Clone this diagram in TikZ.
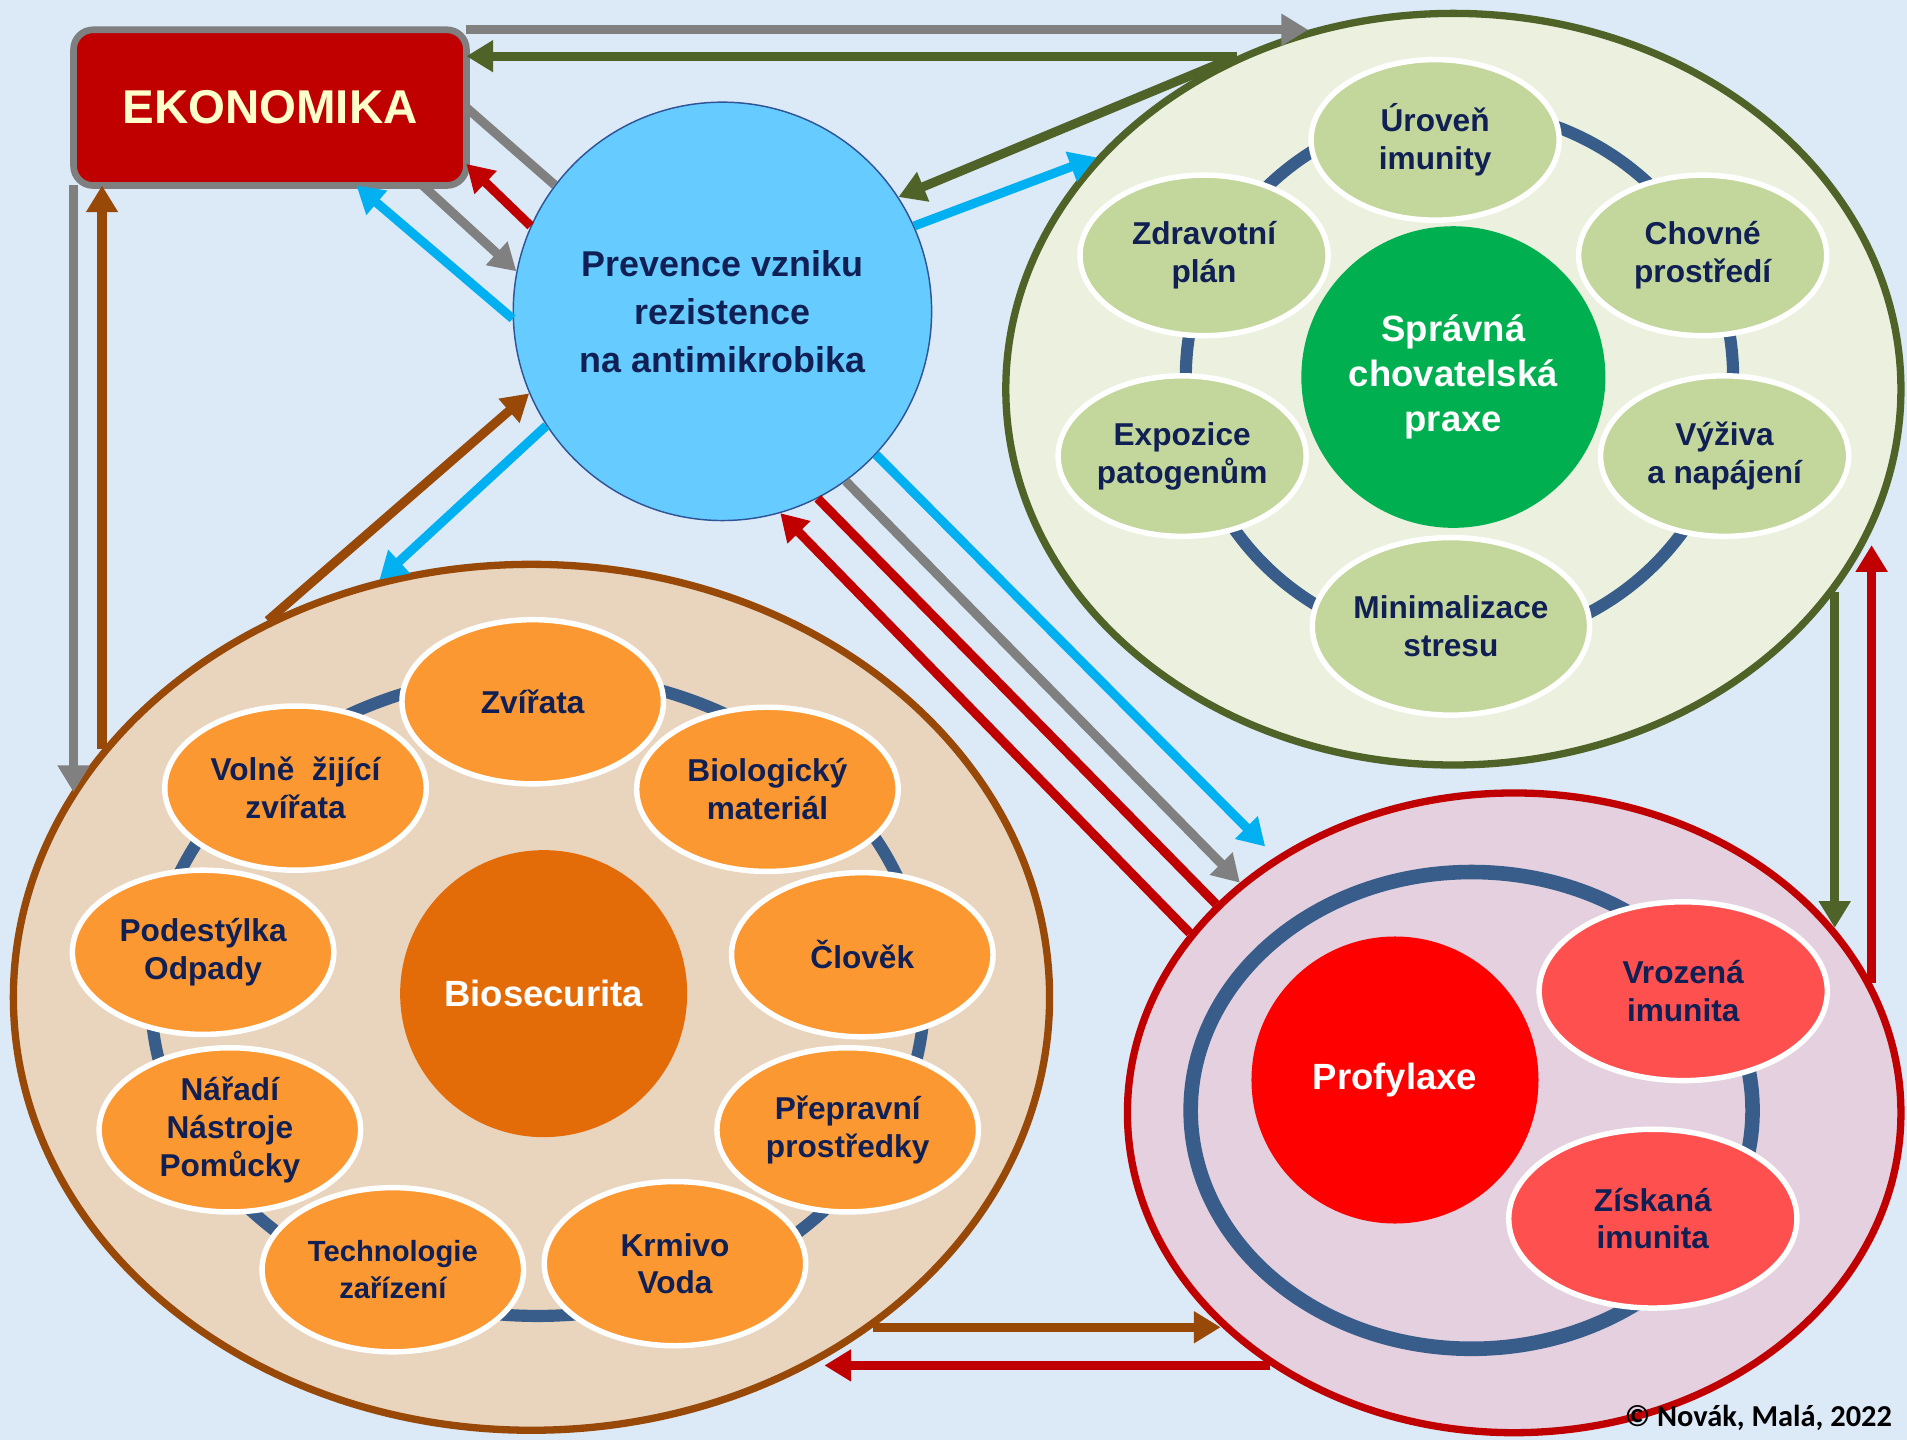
\documentclass[tikz,border=0pt]{standalone}
\usepackage{fontspec}
\setmainfont{Liberation Sans}
\newfontfamily\cpfont{Carlito}
\usetikzlibrary{arrows.meta,shapes.geometric}

\definecolor{bgblue}{RGB}{220,233,246}
\definecolor{navy}{RGB}{16,32,84}
\definecolor{ekored}{RGB}{192,0,0}
\definecolor{ekoline}{RGB}{127,127,127}
\definecolor{cream}{RGB}{255,255,204}
\definecolor{prevblue}{RGB}{102,204,255}
\definecolor{prevline}{RGB}{47,85,151}
\definecolor{grnfill}{RGB}{235,241,222}
\definecolor{olv}{RGB}{79,98,40}
\definecolor{ringblue}{RGB}{56,93,138}
\definecolor{sprgreen}{RGB}{0,176,80}
\definecolor{gbubfill}{RGB}{195,214,155}
\definecolor{orgfill}{RGB}{233,212,190}
\definecolor{brn}{RGB}{152,72,7}
\definecolor{biofill}{RGB}{227,108,9}
\definecolor{obubfill}{RGB}{252,152,50}
\definecolor{pnkfill}{RGB}{228,208,222}
\definecolor{redline}{RGB}{192,0,0}
\definecolor{proffill}{RGB}{255,0,0}
\definecolor{pbubfill}{RGB}{255,80,80}
\definecolor{arrblue}{RGB}{0,176,240}
\definecolor{arrgray}{RGB}{128,128,128}

\tikzset{every picture/.style={line width=0.75pt}}

\begin{document}
\begin{tikzpicture}[x=1pt,y=1pt,yscale=-1,xscale=1,
  big/.style={ellipse,line width=6pt,inner sep=0pt},
  ring/.style={draw=ringblue,line width=10pt},
  core/.style={ellipse,inner sep=0pt,text=white,align=center,font=\fontsize{30}{37}\selectfont\bfseries,minimum width=236pt,minimum height=236pt},
  bub/.style={ellipse,draw=white,line width=4.5pt,inner sep=0pt,text=navy,align=center,font=\fontsize{26}{31}\selectfont\bfseries},
  gbub/.style={bub,fill=gbubfill,minimum width=204pt,minimum height=132pt},
  obub/.style={bub,fill=obubfill,minimum width=215pt,minimum height=135pt},
  pbub/.style={bub,fill=pbubfill,minimum width=237pt,minimum height=147pt},
  arr/.style={line width=7.5pt,-{Triangle[width=25pt,length=22pt]}},
  ln/.style={line width=7.5pt}]

%Background
\fill[bgblue] (0,0) rectangle (1568,1184);
\useasboundingbox (0,0) rectangle (1568,1184);

%Rounded Rect: Ekonomika
\node[draw=ekoline,fill=ekored,rounded corners=16pt,line width=5.5pt,minimum width=323pt,minimum height=128pt,outer sep=0pt,text=cream,font=\fontsize{39}{47}\selectfont\bfseries] (eko) at (222,88.5) {EKONOMIKA};

%Shape: Circle: Prevence
\node[circle,draw=prevline,line width=1.2pt,fill=prevblue,minimum size=344pt,inner sep=0pt,align=center,text=navy,font=\fontsize{29.5}{39.5}\selectfont\bfseries] (prev) at (594,256) {Prevence vzniku\\rezistence\\na antimikrobika};

%Shape: Ellipse: chovatelska praxe
\node[big,draw=olv,fill=grnfill,minimum width=736pt,minimum height=618pt] (grn) at (1195,320) {};
\draw[ring] (1200,310) ellipse [x radius=225,y radius=220];
\node[core,fill=sprgreen,minimum width=250pt,minimum height=248pt] (spr) at (1195,310) {Správná\\chovatelská\\praxe};
\node[gbub] (uroven) at (1180,115) {Úroveň\\imunity};
\node[gbub] (zdrav) at (990,210) {Zdravotní\\plán};
\node[gbub] (chovne) at (1400,210) {Chovné\\prostředí};
\node[gbub] (expoz) at (972,375) {Expozice\\patogenům};
\node[gbub] (vyziva) at (1418,375) {Výživa\\a napájení};
\node[gbub,minimum width=228pt,minimum height=146pt] (minim) at (1193,515) {Minimalizace\\stresu};

%Shape: Ellipse: biosecurita
\node[big,draw=brn,fill=orgfill,minimum width=852pt,minimum height=712pt] (org) at (437,820) {};
\draw[ring] (442,818) ellipse [x radius=318,y radius=264];
\node[core,fill=biofill] (bio) at (447,817) {Biosecurita};
\node[obub] (zvirata) at (438,577) {Zvířata};
\node[obub] (volne) at (243,648) {Volně\ \ žijící\\zvířata};
\node[obub] (biolog) at (631,649) {Biologický\\materiál};
\node[obub] (podest) at (167,783) {Podestýlka\\Odpady};
\node[obub] (clovek) at (709,785) {Člověk};
\node[obub] (naradi) at (189,929) {Nářadí\\Nástroje\\Pomůcky};
\node[obub] (preprav) at (697,929) {Přepravní\\prostředky};
\node[obub,font=\fontsize{24}{30}\selectfont\bfseries] (techno) at (323,1044) {Technologie\\zařízení};
\node[obub] (krmivo) at (555,1039) {Krmivo\\Voda};

%Shape: Ellipse: profylaxe
\node[big,draw=redline,fill=pnkfill,minimum width=636pt,minimum height=526pt] (pnk) at (1245,915) {};
\draw[ring,line width=12pt] (1210,913) ellipse [x radius=231,y radius=196];
\node[core,fill=proffill] (prof) at (1147,888) {Profylaxe};
\node[pbub] (vroz) at (1384,815) {Vrozená\\imunita};
\node[pbub] (zisk) at (1359,1002) {Získaná\\imunita};

%Straight Lines: Ekonomika
\draw[arr,arrgray] (eko.north east) -- (eko.north east -| grn.112);
\draw[arr,olv] (grn.123) -- (grn.123 -| eko.east);
\draw[ln,arrgray] (eko.east) -- (prev.143);
\draw[arr,arrgray] (eko.-27) -- (prev.169);
\draw[arr,redline] (prev.156) -- (eko.-16);
\draw[arr,arrblue] (prev.182) -- (eko.-42);
\draw[arr,arrgray] (eko.south west) -- (eko.south west |- org.156);
\draw[arr,brn] (org.150) -- (org.150 |- eko.south);

%Straight Lines: Prevence
\draw[arr,olv] (grn.123) -- (prev.33);
\draw[arr,arrblue] (prev.24) -- (grn.147);
\draw[arr,brn] (org.125) -- (prev.203);
\draw[arr,arrblue] (prev.213) -- (org.110);
\draw[arr,arrblue,shorten >=12pt] (prev.-43) -- (pnk.133);
\draw[arr,arrgray] (prev.-54) -- (pnk.140);
\draw[ln,redline] (pnk.145) -- (prev.-63);
\draw[arr,redline] (pnk.151) -- (prev.-74);

%Straight Lines: side
\draw[arr,olv] (grn.-28) -- (grn.-28 |- pnk.30);
\draw[arr,redline,shorten >=10pt] (pnk.20) -- (pnk.20 |- grn.-19);
\draw[arr,brn] (org.-44) -- (org.-44 -| pnk.216);
\draw[arr,redline,shorten >=12pt] (pnk.226) -- (pnk.226 -| org.-53);

% Text Node
\node[anchor=east,inner sep=0pt,font=\cpfont\bfseries\fontsize{25}{30}\selectfont] (copy) at (1556,1166) {© Novák, Malá, 2022};

\end{tikzpicture}
\end{document}
